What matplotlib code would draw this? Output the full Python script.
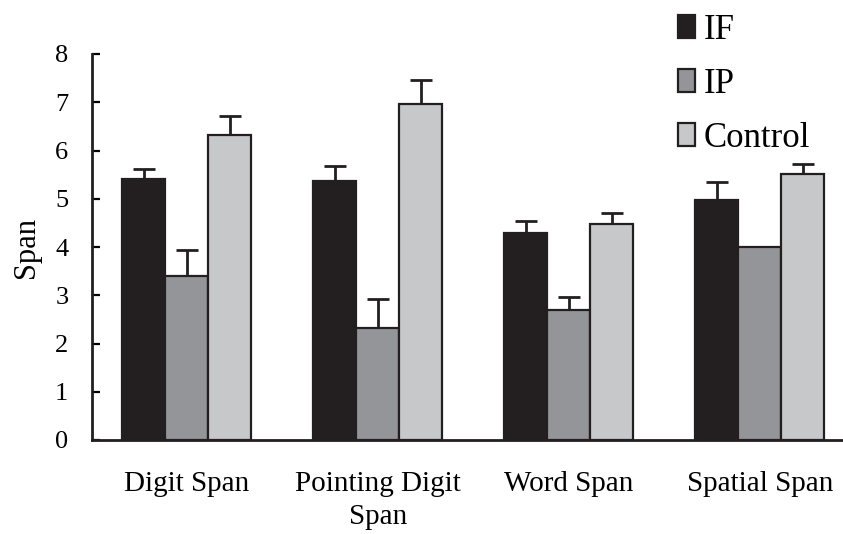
import matplotlib
matplotlib.use("Agg")
import matplotlib.pyplot as plt
from matplotlib.patches import Patch
import numpy as np

categories = ["Digit Span", "Pointing Digit\nSpan", "Word Span", "Spatial Span"]
series = ["IF", "IP", "Control"]
if_vals = [5.41, 5.37, 4.29, 4.97]
if_err = [0.21, 0.31, 0.25, 0.38]
ip_vals = [3.40, 2.32, 2.69, 4.00]
ip_err = [0.54, 0.60, 0.27, 0.0]
ctrl_vals = [6.32, 6.96, 4.48, 5.51]
ctrl_err = [0.40, 0.50, 0.22, 0.21]
yticks = [0, 1, 2, 3, 4, 5, 6, 7, 8]

colors = ["#231f20", "#939598", "#c7c8ca"]
edge = "#231f20"

plt.rcParams['font.family'] = ['Liberation Serif', 'DejaVu Serif']

fig = plt.figure(figsize=(8.43, 5.34), dpi=100)
ax = fig.add_axes([92/843, 94/534, 1 - 92/843, (440-54)/534])

x = np.arange(len(categories))
w = 0.225
vals = [if_vals, ip_vals, ctrl_vals]
errs = [if_err, ip_err, ctrl_err]
for i, (v, e, c) in enumerate(zip(vals, errs, colors)):
    pos = x + (i - 1) * w
    ax.bar(pos, v, width=w, color=c, edgecolor=edge, linewidth=1.6, zorder=2)
    e = np.array(e)
    mask = e > 0
    ax.errorbar(pos[mask], np.array(v)[mask], yerr=[np.zeros(mask.sum()), e[mask]],
                fmt='none', ecolor=edge, elinewidth=2, capsize=8, capthick=2, zorder=1)

ax.set_xlim(-0.497, 3.435)
ax.set_ylim(0, 8)
ax.set_yticks(yticks)
ax.set_xticks(x)
ax.set_xticklabels(categories, fontsize=21, linespacing=1.35)
ax.tick_params(axis='x', length=0, pad=22)
ax.tick_params(axis='y', direction='in', length=6, width=1.6, labelsize=19, pad=17)
for s in ['top', 'right']:
    ax.spines[s].set_visible(False)
for s in ['left', 'bottom']:
    ax.spines[s].set_linewidth(2)
    ax.spines[s].set_color(edge)
ax.set_ylabel("Span", fontsize=22, labelpad=10)

handles = [Patch(facecolor=c, edgecolor=edge, linewidth=1.6) for c in colors]
fig.legend(handles, series, loc='upper left', bbox_to_anchor=(678/843, 1 - 14/534),
           frameon=False, fontsize=25, handlelength=0.5, handleheight=0.65,
           handletextpad=0.25, labelspacing=0.6, borderpad=0, borderaxespad=0)

fig.savefig("out.png", dpi=100)
